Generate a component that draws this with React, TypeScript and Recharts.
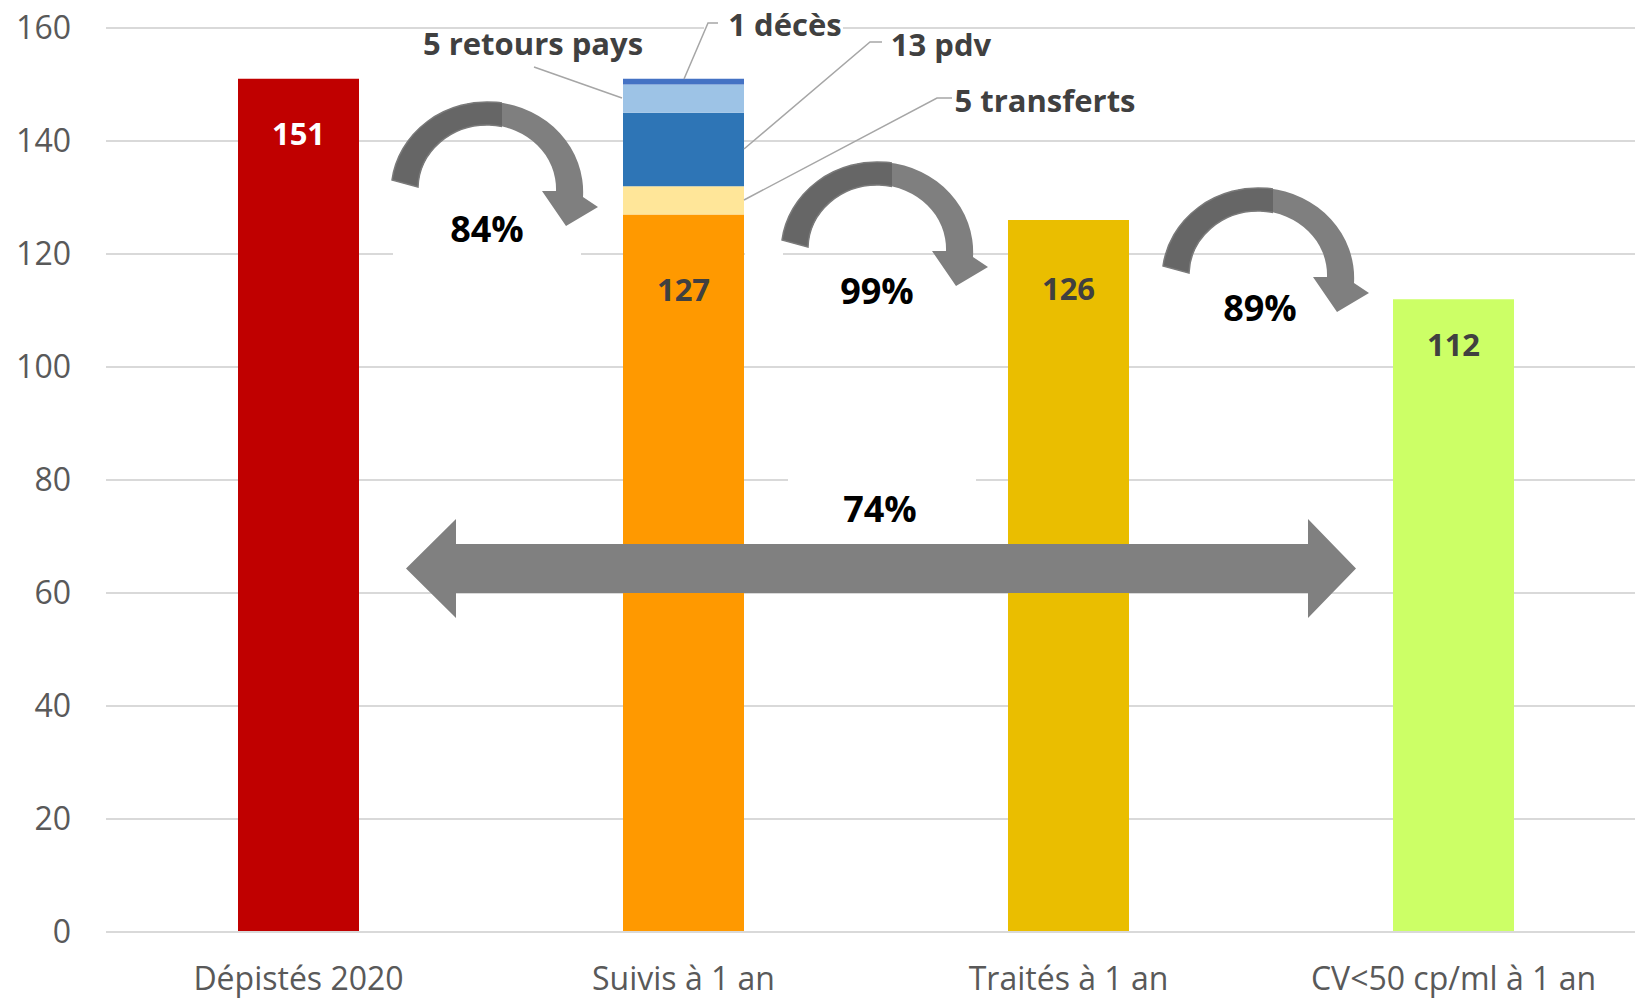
import React from "react";
import { BarChart, Bar, XAxis, YAxis, CartesianGrid, Cell, LabelList } from "recharts";

const categories = ["Dépistés 2020", "Suivis à 1 an", "Traités à 1 an", "CV<50 cp/ml à 1 an"];
const mainValues = [151, 127, 126, 112];
const transferts = [0, 5, 0, 0];
const pdv = [0, 13, 0, 0];
const retoursPays = [0, 5, 0, 0];
const deces = [0, 1, 0, 0];
const yTicks = [0, 20, 40, 60, 80, 100, 120, 140, 160];

const barColors = ["#C00000", "#FF9900", "#EABE00", "#CCFF66"];
const labelColors = ["#FFFFFF", "#404040", "#404040", "#404040"];
// distance of each value label below the bar top (px)
const labelOffsets = [54, 75, 68, 45];

const FONT = "'Open Sans', 'Noto Sans', sans-serif";

const data = categories.map((name, i) => ({
  name,
  main: mainValues[i],
  transferts: transferts[i],
  pdv: pdv[i],
  retours: retoursPays[i],
  deces: deces[i],
}));

const ValueLabel = (props: any) => {
  const { x, y, width, value } = props;
  const idx = props.index ?? mainValues.indexOf(value);
  return (
    <text
      x={x + width / 2}
      y={y + labelOffsets[idx]}
      textAnchor="middle"
      dominantBaseline="central"
      fill={labelColors[idx]}
      fontSize={31}
      fontWeight={700}
      fontFamily={FONT}
    >
      {value}
    </text>
  );
};

// curved "down" arrow, local origin = outer left foot
const CurvedArrow = ({ x, y, id }: { x: number; y: number; id: string }) => {
  const d =
    "M0 0 A96 90 0 0 1 191 17 L206 27 L174 46 L150 11 L164 11 A69 64 0 0 0 26 7 Z";
  return (
    <g transform={`translate(${x},${y})`}>
      <defs>
        <clipPath id={id}>
          <rect x={-10} y={-120} width={120} height={200} />
        </clipPath>
      </defs>
      <path d={d} fill="#7F7F7F" />
      <path d={d} fill="#666666" stroke="#7A7A7A" strokeWidth={1.5} clipPath={`url(#${id})`} />
    </g>
  );
};

const annotStyle = { fontSize: 31, fontWeight: 700, fontFamily: FONT, fill: "#404040" };
const pctStyle = { fontSize: 36, fontWeight: 700, fontFamily: FONT, fill: "#000000" };

const Overlay = () => (
  <svg
    width={1635}
    height={998}
    style={{ position: "absolute", left: 0, top: 0, pointerEvents: "none" }}
  >
    {/* white text boxes hiding gridlines */}
    <rect x={393} y={205} width={188} height={55} fill="#fff" />
    <rect x={745} y={249} width={38} height={8} fill="#fff" />
    <rect x={788} y={470} width={188} height={50} fill="#fff" />
    <rect x={704} y={22} width={139} height={10} fill="#fff" />

    {/* leader lines */}
    <g stroke="#A6A6A6" strokeWidth={1.5} fill="none">
      <polyline points="684,79 708,23 718,23" />
      <polyline points="534,67 622,98" />
      <polyline points="744,149 870,42 882,42" />
      <polyline points="744,200 937,98 952,98" />
    </g>
    <text x={533} y={43} textAnchor="middle" dominantBaseline="central" style={annotStyle}>
      5 retours pays
    </text>
    <text x={785} y={24} textAnchor="middle" dominantBaseline="central" style={annotStyle}>
      1 décès
    </text>
    <text x={941} y={44} textAnchor="middle" dominantBaseline="central" style={annotStyle}>
      13 pdv
    </text>
    <text x={1045} y={100} textAnchor="middle" dominantBaseline="central" style={annotStyle}>
      5 transferts
    </text>

    <CurvedArrow x={392} y={180} id="ca1" />
    <CurvedArrow x={782} y={240} id="ca2" />
    <CurvedArrow x={1163} y={266} id="ca3" />

    <path
      d="M406 568.5 L456 519 L456 544 L1308 544 L1308 519 L1356 568.5 L1308 618 L1308 593 L456 593 L456 618 Z"
      fill="#808080"
    />

    <text x={487} y={228} textAnchor="middle" dominantBaseline="central" style={pctStyle}>
      84%
    </text>
    <text x={877} y={290} textAnchor="middle" dominantBaseline="central" style={pctStyle}>
      99%
    </text>
    <text x={1260} y={307} textAnchor="middle" dominantBaseline="central" style={pctStyle}>
      89%
    </text>
    <text x={880} y={508} textAnchor="middle" dominantBaseline="central" style={pctStyle}>
      74%
    </text>
  </svg>
);

export default function App() {
  return (
    <div
      style={{
        position: "absolute",
        left: 0,
        top: 0,
        width: 1635,
        height: 998,
        overflow: "hidden",
        background: "#fff",
      }}
    >
      <BarChart
        width={1646}
        height={998}
        data={data}
        margin={{ top: 28, right: 0, bottom: 0, left: 0 }}
        barSize={121}
      >
        <CartesianGrid vertical={false} stroke="#D9D9D9" strokeWidth={2} />
        <XAxis
          dataKey="name"
          height={66}
          tickSize={0}
          tickMargin={35}
          axisLine={{ stroke: "#D9D9D9", strokeWidth: 2 }}
          tickLine={false}
          tick={{ fill: "#595959", fontSize: 32, fontFamily: FONT }}
          interval={0}
        />
        <YAxis
          width={106}
          domain={[0, 160]}
          ticks={yTicks}
          tickSize={0}
          tickMargin={35}
          axisLine={false}
          tickLine={false}
          tick={{ fill: "#595959", fontSize: 32, fontFamily: FONT }}
        />
        <Bar dataKey="main" stackId="s" isAnimationActive={false}>
          {data.map((_d, i) => (
            <Cell key={`c-${i}`} fill={barColors[i]} />
          ))}
          <LabelList dataKey="main" content={ValueLabel} />
        </Bar>
        <Bar dataKey="transferts" stackId="s" fill="#FFE699" isAnimationActive={false} />
        <Bar dataKey="pdv" stackId="s" fill="#2E75B6" isAnimationActive={false} />
        <Bar dataKey="retours" stackId="s" fill="#9DC3E6" isAnimationActive={false} />
        <Bar dataKey="deces" stackId="s" fill="#4472C4" isAnimationActive={false} />
      </BarChart>
      <Overlay />
    </div>
  );
}
